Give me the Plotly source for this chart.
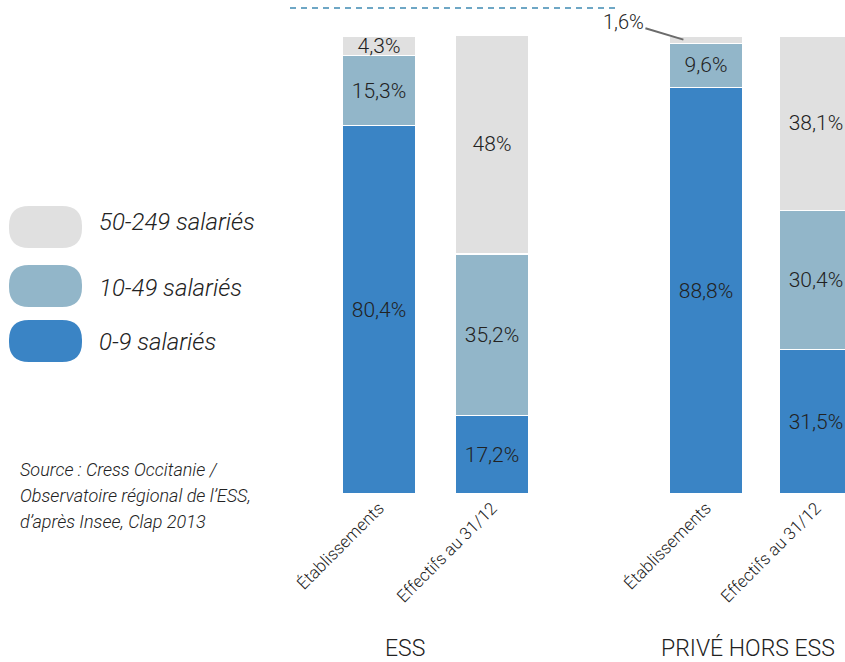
import plotly.graph_objects as go

# ---- data ----
bar_labels = ["Établissements", "Effectifs au 31/12", "Établissements", "Effectifs au 31/12"]
groups = ["ESS", "PRIVÉ HORS ESS"]
series_names = ["0-9 salariés", "10-49 salariés", "50-249 salariés"]
v_0_9 = [80.4, 17.2, 88.8, 31.5]
v_10_49 = [15.3, 35.2, 9.6, 30.4]
v_50_249 = [4.3, 48.0, 1.6, 38.1]
source_lines = ["Source : Cress Occitanie /", "Observatoire régional de l’ESS,", "d’après Insee, Clap 2013"]

# ---- layout helpers ----
W, H = 845, 662
TOP, BOT = 36, 494
x_pos = [0.0, 1.0, 2.894, 3.867]
UNIT = 113.0
X0PIX = 379.0
colors = ["#3a84c5", "#92b6c9", "#e0e0e0"]
FONT = "Roboto"
TXT = "#222222"


def fmt(v):
    s = f"{v:.1f}".replace(".", ",")
    if s.endswith(",0"):
        s = s[:-2]
    return s + "%"


def px2x(px):
    return px / W


def py2y(py):
    return (BOT - py) / (BOT - TOP)


fig = go.Figure()
for name, vals, col in zip(series_names, [v_0_9, v_10_49, v_50_249], colors):
    texts = [fmt(v) if v >= 3 else "" for v in vals]
    fig.add_trace(go.Bar(
        x=x_pos, y=vals, name=name, width=74 / UNIT,
        marker=dict(color=col, line=dict(color="white", width=1.2)),
        text=texts, textposition="inside", insidetextanchor="middle",
        textangle=0,
        insidetextfont=dict(family=FONT, size=21, color=TXT, weight=300),
        showlegend=False, hoverinfo="skip",
    ))

shapes = []
annotations = []

# legend pills
leg_items = [(series_names[2], colors[2], 227, 222), (series_names[1], colors[1], 286, 288), (series_names[0], colors[0], 341, 342)]
for name, col, cy, ty in leg_items:
    x0, x1 = 9, 82
    y0, y1 = cy - 21, cy + 21
    r = 20
    pts = [
        (x0 + r, y0), (x1 - r, y0), ("Q", x1, y0, x1, y0 + r), (x1, y1 - r),
        ("Q", x1, y1, x1 - r, y1), (x0 + r, y1), ("Q", x0, y1, x0, y1 - r),
        (x0, y0 + r), ("Q", x0, y0, x0 + r, y0)]
    path = ""
    for i, p in enumerate(pts):
        if p[0] == "Q":
            path += f" Q {px2x(p[1])},{py2y(p[2])} {px2x(p[3])},{py2y(p[4])}"
        else:
            path += ("M" if i == 0 else " L") + f" {px2x(p[0])},{py2y(p[1])}"
    path += " Z"
    shapes.append(dict(type="path", xref="paper", yref="paper", path=path,
                       fillcolor=col, line=dict(width=0), layer="above"))
    annotations.append(dict(xref="paper", yref="paper", x=px2x(97), y=py2y(ty),
                            text=f"<i>{name}</i>", showarrow=False, xanchor="left", yanchor="middle",
                            font=dict(family=FONT, size=24, color=TXT, weight=300)))

# source text
for line, ty in zip(source_lines, [469, 495, 521]):
    annotations.append(dict(xref="paper", yref="paper", x=px2x(18), y=py2y(ty),
                            text=f"<i>{line}</i>", showarrow=False, xanchor="left", yanchor="middle",
                            font=dict(family=FONT, size=18, color=TXT, weight=300)))

# group labels
for g, gx in zip(groups, [405, 748]):
    annotations.append(dict(xref="paper", yref="paper", x=px2x(gx), y=py2y(648),
                            text=g, showarrow=False, xanchor="center", yanchor="middle",
                            font=dict(family=FONT, size=23, color=TXT, weight=300)))

# small value with leader line
annotations.append(dict(xref="x", yref="y", x=x_pos[2] - 0.2, y=100 - v_50_249[2] / 2,
                        text=fmt(v_50_249[2]), showarrow=True, arrowhead=0, arrowwidth=2,
                        arrowcolor="#6b6b6b", ax=-60, ay=-18, standoff=0,
                        font=dict(family=FONT, size=20, color=TXT, weight=300)))

# dashed top line
shapes.append(dict(type="line", xref="paper", yref="paper", x0=px2x(290), x1=px2x(620),
                   y0=py2y(8), y1=py2y(8), line=dict(color="#3f8bb3", width=1.5, dash="6px,5px")))

fig.update_layout(
    barmode="stack", width=W, height=H,
    margin=dict(l=0, r=0, t=TOP, b=H - BOT),
    paper_bgcolor="white", plot_bgcolor="white",
    xaxis=dict(range=[-X0PIX / UNIT, (W - X0PIX) / UNIT], tickmode="array", tickvals=x_pos,
               ticktext=bar_labels, tickangle=-45, showgrid=False, zeroline=False, showline=False,
               ticks="", tickfont=dict(family=FONT, size=17, color=TXT, weight=300), fixedrange=True),
    yaxis=dict(range=[0, 100], visible=False, fixedrange=True),
    uniformtext=dict(minsize=21, mode="show"),
    shapes=shapes, annotations=annotations,
    font=dict(family=FONT, color=TXT),
)

fig.write_html("out.html", config={"displayModeBar": False},
               post_script="document.body.style.margin='0';document.body.style.overflow='hidden';")
